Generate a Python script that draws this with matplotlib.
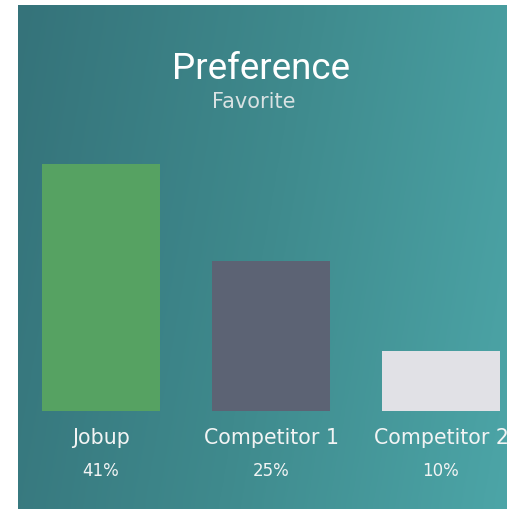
import numpy as np
import matplotlib.pyplot as plt
from matplotlib.colors import LinearSegmentedColormap

categories = ['Jobup', 'Competitor 1', 'Competitor 2']
values = [41, 25, 10]
value_labels = ['41%', '25%', '10%']
bar_colors = ['#56a262', '#5c6374', '#e1e1e6']

title = 'Preference'
subtitle = 'Favorite'

W, H = 507, 509
fig = plt.figure(figsize=(W / 100, H / 100), dpi=100)
fig.patch.set_facecolor('white')

# panel with the teal gradient, bars drawn on top of it
ax = fig.add_axes([18 / W, 0, (W - 18) / W, (H - 5) / H])
ax.set_axis_off()

# pixel scale: bar centers every 170 px, 1% ~ 6.02 px, baseline at y=411
px_x = 170.0
px_y = 6.02
ax.set_xlim((18 - 101) / px_x, (W - 101) / px_x)
ax.set_ylim(-(H - 411) / px_y, (411 - 5) / px_y)

grad = LinearSegmentedColormap.from_list('bg', ['#35737a', '#3f8a8d', '#4ca5a7'])
gx = np.linspace(0, 1, 256)
gy = np.linspace(0, 1, 64)
gxx, gyy = np.meshgrid(gx, gy)
ax.imshow(0.85 * gxx + 0.15 * gyy, cmap=grad, aspect='auto',
          extent=[0, 1, 0, 1], transform=ax.transAxes, zorder=0,
          interpolation='bicubic')

x = np.arange(len(categories))
ax.bar(x, values, width=118 / px_x, color=bar_colors, zorder=2)

for xi, name, lab in zip(x, categories, value_labels):
    ax.text(xi, -(438 - 411) / px_y, name, ha='center', va='center',
            color='#f2f4f4', fontsize=14.8, family='DejaVu Sans',
            clip_on=False)
    ax.text(xi, -(471 - 411) / px_y, lab, ha='center', va='center',
            color='#f2f4f4', fontsize=12, family='DejaVu Sans',
            clip_on=False)

fig.text(261 / W, 1 - 69 / H, title, ha='center', va='center',
         color='white', fontsize=26.5, family='Roboto')
fig.text(254 / W, 1 - 102 / H, subtitle, ha='center', va='center',
         color='#d9e2e3', fontsize=15, family='DejaVu Sans')

fig.savefig('out.png', dpi=100, facecolor=fig.get_facecolor())
